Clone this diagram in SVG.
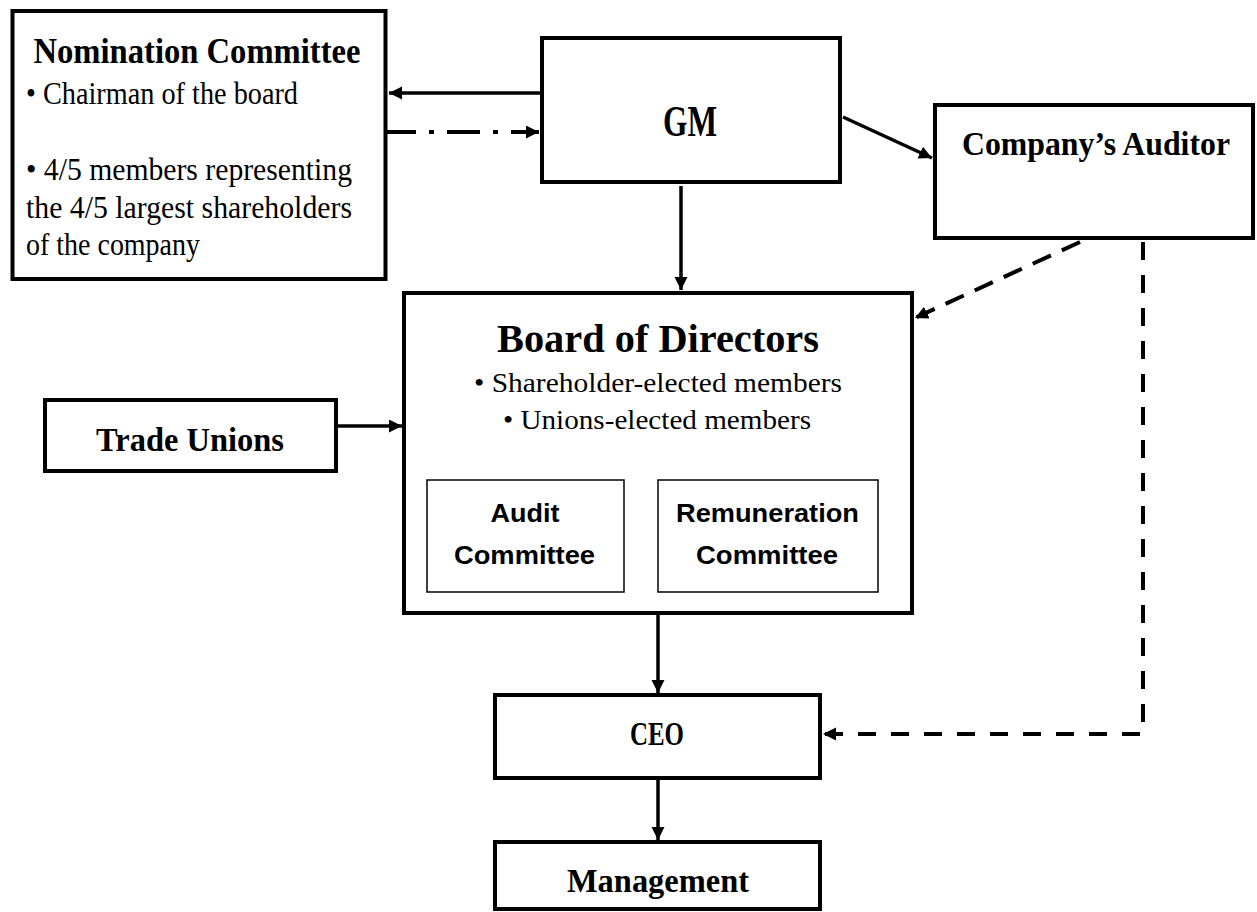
<svg xmlns="http://www.w3.org/2000/svg" width="1257" height="912" viewBox="0 0 1257 912">
<defs>
<marker id="ah" markerUnits="userSpaceOnUse" markerWidth="14" markerHeight="14" refX="13" refY="6.5" orient="auto">
<path d="M0,0 L13,6.5 L0,13 z" fill="#000"/>
</marker>
<style>
.box{fill:#fff;stroke:#000;stroke-width:4}
.sub{fill:#fff;stroke:#000;stroke-width:1.5}
.t{font-family:"Liberation Serif","Times New Roman",serif;fill:#000}
.b{font-weight:bold}
.s{font-family:"Liberation Sans",Arial,sans-serif;font-weight:bold;fill:#000}
.c{text-anchor:middle}
.ln{fill:none;stroke:#000;stroke-width:3.5}
.dash{stroke-width:4;stroke-dasharray:18 15}
.dash2{stroke-width:4;stroke-dasharray:20 12}
.dd{stroke-width:4;stroke-dasharray:33 13 5 13}
</style>
</defs>
<rect width="1257" height="912" fill="#fff"/>
<g id="connectors">
<path class="ln" d="M540,93 H389" marker-end="url(#ah)"/>
<path class="ln dd" d="M383,132 H539" marker-end="url(#ah)"/>
<path class="ln" d="M843,117 L932,158" marker-end="url(#ah)"/>
<path class="ln" d="M681,186 V290" marker-end="url(#ah)"/>
<path class="ln dash2" d="M1080,242 L915,318" marker-end="url(#ah)"/>
<path class="ln dash" d="M1143,242 V734 H823" marker-end="url(#ah)"/>
<path class="ln" d="M338,426 H402" marker-end="url(#ah)"/>
<path class="ln" d="M658,615 V693" marker-end="url(#ah)"/>
<path class="ln" d="M658,780 V840" marker-end="url(#ah)"/>
</g>
<g id="nomination">
<rect class="box" x="12.5" y="11" width="373" height="268"/>
<text class="t b c" x="197" y="63" font-size="35" textLength="327" lengthAdjust="spacingAndGlyphs">Nomination Committee</text>
<text class="t" x="26" y="104" font-size="31" textLength="272" lengthAdjust="spacingAndGlyphs">• Chairman of the board</text>
<text class="t" x="26" y="180" font-size="31" textLength="326" lengthAdjust="spacingAndGlyphs">• 4/5 members representing</text>
<text class="t" x="26" y="218" font-size="31" textLength="326" lengthAdjust="spacingAndGlyphs">the 4/5 largest shareholders</text>
<text class="t" x="26" y="255" font-size="31" textLength="174" lengthAdjust="spacingAndGlyphs">of the company</text>
</g>
<g id="gm">
<rect class="box" x="542" y="38" width="298" height="144"/>
<text class="t b c" x="690" y="136" font-size="45" textLength="54" lengthAdjust="spacingAndGlyphs">GM</text>
</g>
<g id="auditor">
<rect class="box" x="935" y="105" width="318" height="133"/>
<text class="t b c" x="1096" y="155" font-size="33" textLength="268" lengthAdjust="spacingAndGlyphs">Company’s Auditor</text>
</g>
<g id="board">
<rect class="box" x="404" y="293" width="508" height="320"/>
<text class="t b c" x="658" y="352" font-size="41" textLength="322" lengthAdjust="spacingAndGlyphs">Board of Directors</text>
<text class="t c" x="658" y="392" font-size="27" textLength="368" lengthAdjust="spacingAndGlyphs">• Shareholder-elected members</text>
<text class="t c" x="657" y="429" font-size="27" textLength="308" lengthAdjust="spacingAndGlyphs">• Unions-elected members</text>
</g>
<g id="audit-committee">
<rect class="sub" x="427" y="480" width="197" height="112"/>
<text class="s c" x="525" y="522" font-size="26" textLength="69" lengthAdjust="spacingAndGlyphs">Audit</text>
<text class="s c" x="524.5" y="564" font-size="26" textLength="141" lengthAdjust="spacingAndGlyphs">Committee</text>
</g>
<g id="remuneration-committee">
<rect class="sub" x="658" y="480" width="220" height="112"/>
<text class="s c" x="767.5" y="522" font-size="26" textLength="183" lengthAdjust="spacingAndGlyphs">Remuneration</text>
<text class="s c" x="767" y="564" font-size="26" textLength="142" lengthAdjust="spacingAndGlyphs">Committee</text>
</g>
<g id="trade-unions">
<rect class="box" x="45" y="400" width="291" height="71"/>
<text class="t b c" x="190" y="451" font-size="34" textLength="188" lengthAdjust="spacingAndGlyphs">Trade Unions</text>
</g>
<g id="ceo">
<rect class="box" x="495" y="695" width="325" height="83"/>
<text class="t b c" x="657" y="745" font-size="33" textLength="54" lengthAdjust="spacingAndGlyphs">CEO</text>
</g>
<g id="management">
<rect class="box" x="495" y="842" width="325" height="67"/>
<text class="t b c" x="658" y="892" font-size="34" textLength="182" lengthAdjust="spacingAndGlyphs">Management</text>
</g>
</svg>
